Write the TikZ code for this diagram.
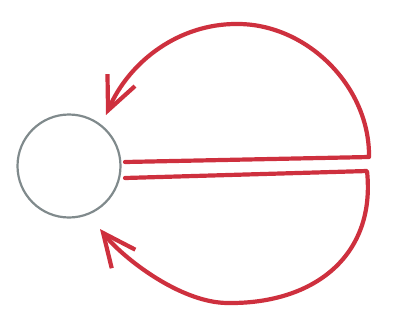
\documentclass[tikz,border=0pt]{standalone}
\usetikzlibrary{arrows.meta}
\definecolor{penred}{RGB}{206,48,62}
\definecolor{pengray}{RGB}{128,138,140}
\tikzset{
  flow/.style={draw=penred, line width=4.2pt, line cap=round, line join=round,
    -{Straight Barb[length=33pt,width=30pt]}},
  ball/.style={circle, draw=pengray, line width=2.2pt, minimum size=103pt, inner sep=0pt}
}
\begin{document}
\begin{tikzpicture}[x=1pt,y=-1pt]
\useasboundingbox (0,0) rectangle (393,322);
\node[ball] (c) at (69,166) {};
\coordinate (u0) at (125,162);
\coordinate (u1) at (369,157);
\coordinate (utop) at (236,24);
\coordinate (utip) at (106,115);
\coordinate (l0) at (125,178);
\coordinate (l1) at (367,171);
\coordinate (lbot) at (228,303);
\coordinate (ltip) at (100,229);
\draw[flow] (u0) -- (u1) .. controls (370,86) and (306,23) .. (utop)
  .. controls (180,24) and (130,60) .. (utip);
\draw[flow] (l0) -- (l1) .. controls (376,255) and (315,304) .. (lbot)
  .. controls (180,303) and (122,257) .. (ltip);
\end{tikzpicture}
\end{document}
